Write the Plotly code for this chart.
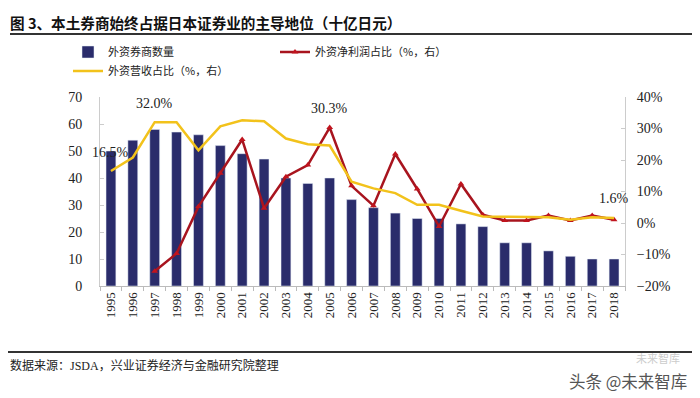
import plotly.graph_objects as go

years = [str(y) for y in range(1995, 2019)]
firm_count = [50, 54, 58, 57, 56, 52, 49, 47, 40, 38, 40, 32, 29, 27, 25, 25, 23, 22, 16, 16, 13, 11, 10, 10]
profit_share = [None, None, -15.3, -9.7, 5.2, 15.8, 26.5, 4.7, 14.7, 18.4, 30.3, 11.8, 5.5, 21.9,
                10.8, -1.1, 12.4, 2.6, 0.8, 0.8, 2.4, 0.8, 2.4, 1.0]
revenue_share = [16.5, 20.8, 32.0, 32.0, 23.1, 30.7, 32.6, 32.3, 26.8, 25.0, 24.6, 13.1, 11.0, 9.5,
                 5.8, 5.8, 3.9, 2.1, 2.0, 1.8, 1.8, 1.0, 1.8, 1.6]
label_points = [("1995", 16.5, "16.5%"), ("1997", 32.0, "32.0%"), ("2005", 30.3, "30.3%"), ("2018", 1.6, "1.6%")]

SERIF = "Liberation Serif, Noto Sans CJK SC"
CJK = "Noto Sans CJK SC"

# page body has an 8px margin; figure is drawn at (8, 8)
OFF = 8
W, H = 700 - OFF, 398 - OFF
# plot area in page pixels
L, R, T, B = 100, 625, 97, 286


def fx(px):
    return (px - L) / (R - L)


def fy(py):
    return (B - py) / (B - T)


def cx(px):
    return (px - OFF) / W


def cy(py):
    return 1 - (py - OFF) / H


fig = go.Figure()
fig.add_trace(go.Bar(x=years, y=firm_count, name="外资券商数量", marker_color="#2A2C6B",
                     width=0.45, legend="legend"))
fig.add_trace(go.Scatter(x=years, y=profit_share, name="外资净利润占比（%，右）", yaxis="y2",
                         mode="lines+markers", line=dict(color="#A8141E", width=2.5),
                         marker=dict(symbol="triangle-up", size=6, color="#C0141E"),
                         legend="legend"))
fig.add_trace(go.Scatter(x=years, y=revenue_share, name="外资营收占比（%，右）", yaxis="y2",
                         mode="lines", line=dict(color="#F2C21B", width=2.5), legend="legend2"))

annotations = []
for yr, v, t in label_points:
    annotations.append(dict(x=years.index(yr), y=v, xref="x", yref="y2", text=t, showarrow=False,
                            yshift=19, font=dict(family=SERIF, size=14, color="#222")))

annotations.append(dict(x=fx(8), y=fy(22), xref="paper", yref="paper", xanchor="left",
                        yanchor="middle", text="<b>图 3、本土券商始终占据日本证券业的主导地位（十亿日元）</b>",
                        showarrow=False, font=dict(family=CJK, size=14.6, color="#111")))
annotations.append(dict(x=fx(8), y=fy(365), xref="paper", yref="paper", xanchor="left",
                        yanchor="middle", text="数据来源：JSDA，兴业证券经济与金融研究院整理",
                        showarrow=False, font=dict(family=SERIF, size=12, color="#222")))
annotations.append(dict(x=fx(689), y=fy(381), xref="paper", yref="paper", xanchor="right",
                        yanchor="middle", text="头条 @未来智库",
                        showarrow=False, font=dict(family=CJK, size=16.5, color="#555")))
annotations.append(dict(x=fx(682), y=fy(358), xref="paper", yref="paper", xanchor="right",
                        yanchor="middle", text="未来智库",
                        showarrow=False, font=dict(family=CJK, size=11, color="#ccc")))

fig.update_layout(
    width=W, height=H,
    margin=dict(l=L - OFF, r=W - (R - OFF), t=T - OFF, b=H - (B - OFF), autoexpand=False),
    paper_bgcolor="white", plot_bgcolor="white",
    annotations=annotations,
    shapes=[
        dict(type="line", xref="paper", yref="paper", x0=fx(10), x1=fx(692),
             y0=fy(34), y1=fy(34), line=dict(color="#333", width=1.8)),
        dict(type="line", xref="paper", yref="paper", x0=fx(8), x1=fx(694),
             y0=fy(352), y1=fy(352), line=dict(color="#333", width=1.8)),
    ],
    xaxis=dict(type="category", range=[-0.5, 23.5], tickangle=-90,
               tickfont=dict(family=SERIF, size=13, color="#222"),
               showline=True, linecolor="#bbb", ticks="outside", tickson="boundaries",
               ticklen=4, tickcolor="#bbb", showgrid=False),
    yaxis=dict(range=[0, 70], dtick=10, tickfont=dict(family=SERIF, size=14, color="#222"),
               showline=True, linecolor="#ccc", showgrid=False, zeroline=False,
               ticks="inside", ticklen=4, tickcolor="#ccc", ticklabelstandoff=14),
    yaxis2=dict(range=[-20, 40], dtick=10, overlaying="y", side="right", ticksuffix="%",
                tickfont=dict(family=SERIF, size=14, color="#222"), showline=True,
                linecolor="#ccc", showgrid=False, zeroline=False,
                ticks="inside", ticklen=4, tickcolor="#ccc", ticklabelstandoff=8),
    legend=dict(orientation="h", xref="container", yref="container", x=cx(68), y=cy(52),
                xanchor="left", yanchor="middle", entrywidth=162, entrywidthmode="pixels",
                font=dict(family=CJK, size=11, color="#222"), bgcolor="rgba(0,0,0,0)",
                itemwidth=30, tracegroupgap=0),
    legend2=dict(orientation="h", xref="container", yref="container", x=cx(68), y=cy(71),
                 xanchor="left", yanchor="middle",
                 font=dict(family=CJK, size=11, color="#222"), bgcolor="rgba(0,0,0,0)",
                 itemwidth=30),
    showlegend=True,
)

fig.write_html("out.html")
